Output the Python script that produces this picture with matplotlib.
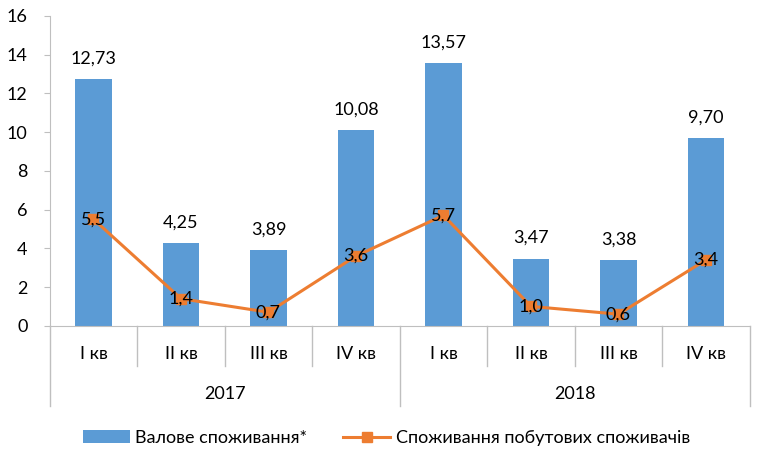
import numpy as np
import matplotlib.pyplot as plt
from matplotlib.lines import Line2D
from matplotlib.patches import Patch

plt.rcParams['font.family'] = ['Lato', 'DejaVu Sans']

quarters = ["I кв", "II кв", "III кв", "IV кв", "I кв", "II кв", "III кв", "IV кв"]
years = ["2017", "2018"]
gross = [12.73, 4.25, 3.89, 10.08, 13.57, 3.47, 3.38, 9.70]
household = [5.5, 1.4, 0.7, 3.6, 5.7, 1.0, 0.6, 3.4]

blue = '#5B9BD5'
orange = '#ED7D31'
fs = 13

fig = plt.figure(figsize=(7.65, 4.5), dpi=100)
ax = fig.add_axes([0.065, 0.276, 0.915, 0.689])

x = np.arange(len(gross))
ax.bar(x, gross, width=0.42, color=blue, zorder=2)
ax.plot(x, household, color=orange, lw=2.2, marker='s', ms=7.5, zorder=3)

for xi, v in zip(x, gross):
    ax.annotate(f"{v:.2f}".replace('.', ','), (xi, v), xytext=(0, 9),
                textcoords='offset points', ha='center', va='bottom', fontsize=fs)
for xi, v in zip(x, household):
    ax.text(xi, v, f"{v:.1f}".replace('.', ','), ha='center', va='center',
            fontsize=fs, zorder=4)

ax.set_xlim(-0.5, len(gross) - 0.5)
ax.set_ylim(0, 16)
ax.set_yticks(np.arange(0, 17, 2))
ax.tick_params(axis='y', labelsize=fs, length=4, color='#BFBFBF', pad=12)
ax.set_xticks([])
for s in ['top', 'right']:
    ax.spines[s].set_visible(False)
ax.spines['left'].set_color('#BFBFBF')
ax.spines['bottom'].set_color('#BFBFBF')

# two-level category axis
trans = ax.get_xaxis_transform()
for xi, q in zip(x, quarters):
    ax.text(xi, -0.09, q, transform=trans, ha='center', va='center', fontsize=fs)
for i, yr in enumerate(years):
    ax.text(i * 4 + 1.5, -0.22, yr, transform=trans, ha='center', va='center', fontsize=fs)
for b in np.arange(-0.5, len(gross), 1.0):
    long_line = (b + 0.5) % 4 == 0
    y_end = -0.26 if long_line else -0.13
    ax.add_line(Line2D([b, b], [0, y_end], transform=trans, color='#BFBFBF',
                       lw=1, clip_on=False))

handles = [Patch(facecolor=blue, label='Валове споживання*'),
           Line2D([], [], color=orange, lw=2.2, marker='s', ms=7.5,
                  label='Споживання побутових споживачів')]
fig.legend(handles=handles, loc='center', bbox_to_anchor=(0.505, 0.027), ncol=2,
           frameon=False, fontsize=fs, handlelength=2.6, handletextpad=0.3,
           columnspacing=2.0)

fig.savefig('out.png', dpi=100)
